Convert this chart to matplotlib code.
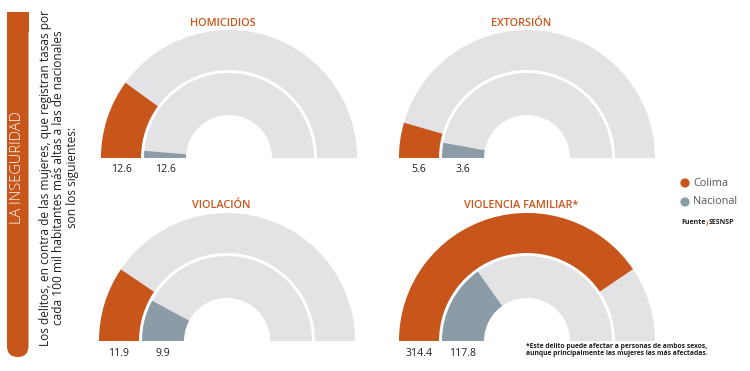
import matplotlib
matplotlib.use("Agg")
import matplotlib.pyplot as plt
from matplotlib.patches import Wedge, FancyBboxPatch, Circle, Rectangle

# ---------------- data ----------------
categories = ["HOMICIDIOS", "EXTORSIÓN", "VIOLACIÓN", "VIOLENCIA FAMILIAR*"]
colima = [12.6, 5.6, 11.9, 314.4]
nacional = [12.6, 3.6, 9.9, 117.8]
# arc actually drawn for the national ring (homicidios arc is drawn far shorter than its label)
nacional_arc = [1.7, 3.6, 9.9, 117.8]
# value that fills the whole half-circle in each gauge
gauge_max = [63, 63, 63, 388]
series_labels = ["Colima", "Nacional"]

ORANGE = "#C8561B"
BLUEGRAY = "#8C9CA6"
LIGHT = "#E3E2E4"
DARK = "#231F20"

FONT = ["Open Sans", "DejaVu Sans"]

fig = plt.figure(figsize=(7.5, 3.71), dpi=100)
ax = fig.add_axes([0, 0, 1, 1])
ax.set_xlim(0, 750)
ax.set_ylim(371, 0)
ax.set_aspect("equal")
ax.axis("off")

# gauge geometry (pixel coordinates, y downward)
centers = [(229, 158), (527, 158), (227, 341), (527, 341)]
R_OUT, W_OUT = 128, 40
R_IN, W_IN = 85, 42

def gauge_wedge(c, r, w, frac, color):
    # y axis is inverted, so angles run clockwise on screen; top half = 180..360
    return Wedge(c, r, 180, 180 + 180 * frac, width=w, facecolor=color,
                 edgecolor="none")

for i, cat in enumerate(categories):
    c = centers[i]
    ax.add_patch(gauge_wedge(c, R_OUT, W_OUT, 1.0, LIGHT))
    ax.add_patch(gauge_wedge(c, R_IN, W_IN, 1.0, LIGHT))
    ax.add_patch(gauge_wedge(c, R_OUT, W_OUT, colima[i] / gauge_max[i], ORANGE))
    ax.add_patch(gauge_wedge(c, R_IN, W_IN, nacional_arc[i] / gauge_max[i], BLUEGRAY))
    # title
    ax.text(c[0] - 6, c[1] - 135, cat, ha="center", va="center", color=ORANGE,
            fontsize=7.8, fontweight="semibold", family=FONT)
    # value labels
    ax.text(c[0] - (R_OUT - W_OUT / 2), c[1] + 12, f"{colima[i]:.1f}",
            ha="center", va="center", color=DARK, fontsize=7.6, family=FONT)
    ax.text(c[0] - (R_IN - W_IN / 2), c[1] + 12, f"{nacional[i]:.1f}",
            ha="center", va="center", color=DARK, fontsize=7.6, family=FONT)

# left orange banner (rounded bottom)
ax.add_patch(FancyBboxPatch((7, 12), 21.5, 345, boxstyle="round,pad=0,rounding_size=10.7",
                            facecolor=ORANGE, edgecolor="none"))
ax.add_patch(Rectangle((7, 12), 21.5, 20, facecolor=ORANGE, edgecolor="none"))
ax.text(18, 168, "LA INSEGURIDAD", rotation=90, ha="center", va="center",
        color="white", fontsize=10.5, fontweight="light", family=FONT)

intro = ("Los delitos, en contra de las mujeres, que registran tasas por\n"
         "cada 100 mil habitantes más altas a las de nacionales\n"
         "son los siguientes:")
ax.text(59, 178, intro, rotation=90, ha="center", va="center", multialignment="center",
        color=DARK, fontsize=8.6, family=FONT, linespacing=1.02)

# legend
leg_colors = [ORANGE, BLUEGRAY]
for k, lab in enumerate(series_labels):
    y = 183 + 19 * k
    ax.add_patch(Circle((685, y), 4.6, facecolor=leg_colors[k], edgecolor="none"))
    ax.text(693, y, lab, ha="left", va="center", color="#555555", fontsize=7.8,
            family=FONT)

t1 = ax.text(681, 223, "Fuente", ha="left", va="center", color=DARK, fontsize=5.0,
             fontweight="bold", family=FONT)
t2 = ax.annotate(")", xy=(1, 0.5), xycoords=t1, xytext=(0.3, 0),
                 textcoords="offset points", ha="left", va="center", color=ORANGE,
                 fontsize=4.6, fontweight="bold", family=FONT)
ax.annotate("SESNSP", xy=(1, 0.5), xycoords=t2, xytext=(0.3, 0),
            textcoords="offset points", ha="left", va="center", color=DARK,
            fontsize=5.0, fontweight="bold", family=FONT)

ax.text(526, 350, "*Este delito puede afectar a personas de ambos sexos,\n"
        "aunque principalmente las mujeres las más afectadas.",
        ha="left", va="center", color=DARK, fontsize=4.9, fontweight="bold",
        family=FONT, linespacing=1.0)

fig.savefig("out.png", dpi=100)
